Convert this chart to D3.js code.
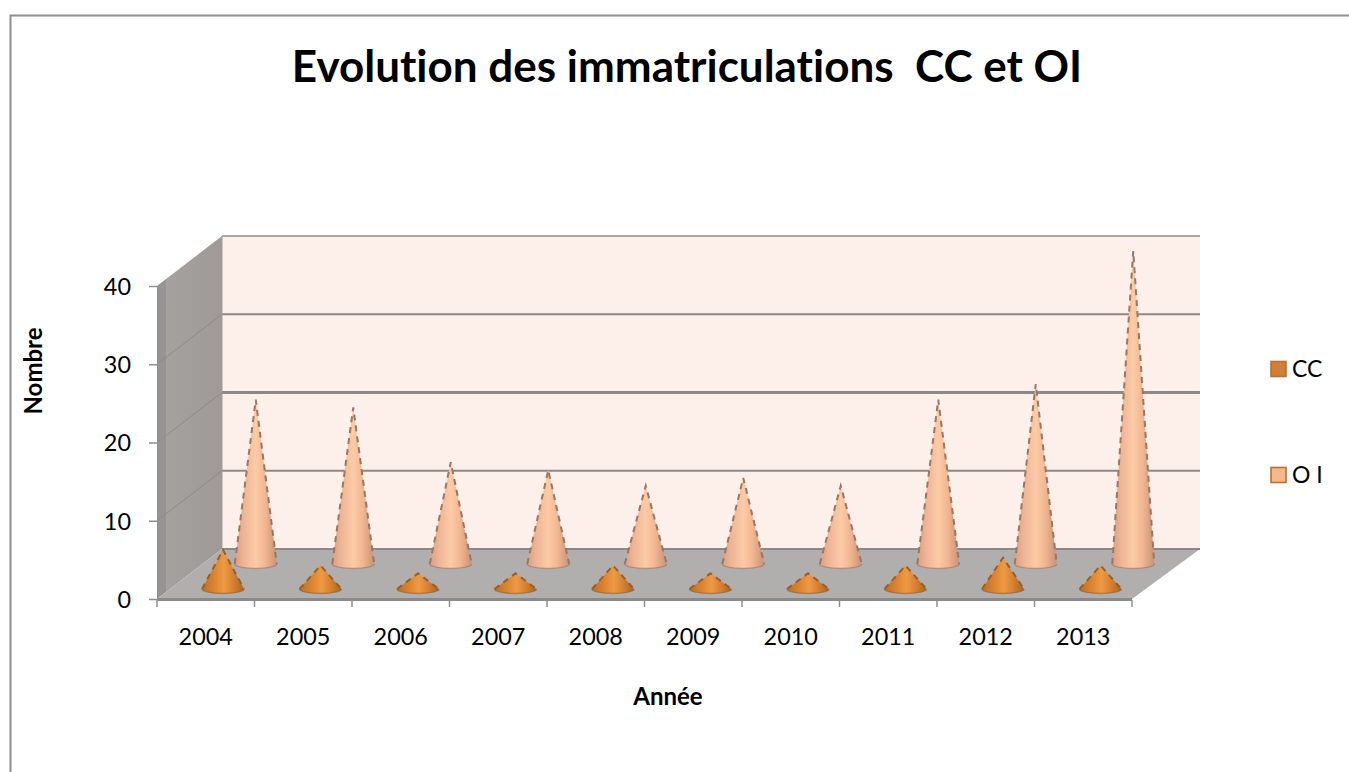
<!DOCTYPE html>
<html><head><meta charset="utf-8">
<script src="https://cdn.jsdelivr.net/npm/d3@7"></script>
<style>
html,body{margin:0;padding:0;background:#fff}
svg{display:block}
text{font-family:Lato,"Open Sans",sans-serif;fill:#000;font-variant-ligatures:none}
</style></head><body><div id="chart"></div>
<script>
const years = ["2004","2005","2006","2007","2008","2009","2010","2011","2012","2013"];
const ccValues = [5,3,2,2,3,2,2,3,4,3];
const oiValues = [21,20,13,12,10,11,10,21,23,40];
const yTicks = [0,10,20,30,40];
const seriesNames = ["CC","O I"];
const titleText = "Evolution des immatriculations  CC et OI";
const xTitle = "Année", yTitle = "Nombre";

const W=1349,H=772;
const svg=d3.select("#chart").append("svg").attr("width",W).attr("height",H);
const defs=svg.append("defs");
function grad(id,stops){
  const g=defs.append("linearGradient").attr("id",id).attr("x1",0).attr("x2",1).attr("y1",0).attr("y2",0);
  stops.forEach(s=>g.append("stop").attr("offset",s[0]).attr("stop-color",s[1]));
}
grad("oiG",[[0,"#d8a084"],[.22,"#eeb596"],[.5,"#fccba6"],[.72,"#f2b692"],[1,"#c99274"]]);
grad("ccG",[[0,"#b96f28"],[.3,"#dc8532"],[.52,"#ee9a44"],[.75,"#d67f30"],[1,"#a9641f"]]);
grad("sideG",[[0,"#959493"],[.13,"#959493"],[.14,"#a5a19e"],[1,"#9f9a98"]]);
defs.append("filter").attr("id","soft").append("feGaussianBlur").attr("stdDeviation",0.7);

// frame
svg.append("path").attr("d",`M10.5,${H} V15.5 H${W}`).attr("fill","none").attr("stroke","#8f8f8f").attr("stroke-width",2);

// scales
const x=d3.scaleBand().domain(years).range([157,1132]);
const y=d3.scaleLinear().domain([0,40]).range([599,286]);
const depth=d3.scaleLinear().domain([0,1]).range([0,1]);
const DX=65, DY=-50;
const px=(xv,d)=>xv+DX*depth(d), py=(yv,d)=>yv+DY*depth(d);

// back wall
const x0=157,x1=1132;
svg.append("path").attr("d",`M${px(x0,1)},${py(y(40),1)} L${px(x1,1)+3},${py(y(40),1)} L${px(x1,1)+3},${py(y(0),1)} L${px(x0,1)},${py(y(0),1)} Z`).attr("fill","#fdf0ea");
// side wall
svg.append("path").attr("d",`M${x0},${y(40)} L${px(x0,1)},${py(y(40),1)} L${px(x0,1)},${py(y(0),1)} L${x0},${y(0)} Z`).attr("fill","url(#sideG)");
// floor
svg.append("path").attr("d",`M${x0},${y(0)} L${x1},${y(0)} L${px(x1,1)+3},${py(y(0),1)} L${px(x0,1)},${py(y(0),1)} Z`).attr("fill","#b1aeae");
// gridlines
yTicks.forEach(t=>{
  const by=py(y(t),1);
  const c=t===40?"#a9a6a5":"#8f8785";
  svg.append("line").attr("x1",px(x0,1)).attr("x2",px(x1,1)+3).attr("y1",by).attr("y2",by)
    .attr("stroke",c).attr("stroke-width",t===20?2.8:2.2);
  if(t<40&&t>0) svg.append("line").attr("x1",x0).attr("y1",y(t)).attr("x2",px(x0,1)).attr("y2",by).attr("stroke","#8f8b89").attr("stroke-width",1);
});
svg.append("line").attr("x1",px(x0,1)).attr("x2",px(x0,1)).attr("y1",py(y(40),1)).attr("y2",py(y(0),1)).attr("stroke","#a09c9a").attr("stroke-width",1);
// floor front edge
svg.append("line").attr("x1",x0).attr("x2",x1).attr("y1",y(0)+.5).attr("y2",y(0)+.5).attr("stroke","#8a8a8c").attr("stroke-width",3);

// axes
const yAxis=d3.axisLeft(y).tickValues(yTicks).tickSize(8).tickPadding(18).tickFormat(d3.format("d"));
const ya=svg.append("g").attr("transform",`translate(${x0},0)`).call(yAxis);
ya.select(".domain").attr("stroke","#8f8f8f");
ya.selectAll(".tick line").attr("stroke","#8f8f8f").attr("stroke-width",1.5);
ya.selectAll("text").style("font-size","23.4px").attr("fill","#000").attr("dy","0.36em");
const xa=svg.append("g").attr("transform",`translate(0,${y(0)})`).call(d3.axisBottom(x).tickSize(0).tickPadding(27));
xa.select(".domain").remove();
xa.selectAll("text").style("font-size","23.4px").attr("fill","#000").attr("dy","0.36em");
xa.selectAll("g.tick text").attr("y",38);
xa.selectAll(".edge").data(years.concat(["end"])).enter().append("line").attr("class","edge")
  .attr("x1",(d,i)=>x0+i*x.step()).attr("x2",(d,i)=>x0+i*x.step()).attr("y1",1).attr("y2",8)
  .attr("stroke","#8f8f8f").attr("stroke-width",1.5);

// cones
function cone(g,cx,by,h,fill,edge){
  const rx=21,ry=4.5,tip=by-h;
  g.append("path").attr("d",`M${cx-rx},${by} L${cx},${tip} L${cx+rx},${by} A${rx},${ry} 0 0 1 ${cx-rx},${by} Z`)
    .attr("fill",fill);
  g.append("path").attr("d",`M${cx-rx},${by} L${cx},${tip} L${cx+rx},${by}`).attr("fill","none")
    .attr("stroke",edge).attr("stroke-width",2).attr("stroke-dasharray","6 5");
  g.append("path").attr("d",`M${cx-rx},${by} A${rx},${ry} 0 0 0 ${cx+rx},${by}`).attr("fill","none")
    .attr("stroke",edge).attr("stroke-width",1.4).attr("stroke-opacity",.6);
}
const H0=v=>y(0)-y(v);
const cones=svg.append("g").attr("filter","url(#soft)");
const oiG=cones.append("g"), ccG=cones.append("g");
years.forEach((yr,i)=>{
  cone(oiG,x(yr)+x.bandwidth()/2+50,564,H0(oiValues[i]),"url(#oiG)","#9c7563");
  cone(ccG,x(yr)+x.bandwidth()/2+17.25,589,H0(ccValues[i]),"url(#ccG)","#96602c");
});

// title & axis titles
svg.append("text").attr("x",687).attr("y",82).attr("text-anchor","middle").attr("xml:space","preserve")
  .style("white-space","pre").style("font-size","44px").style("font-weight",700).text(titleText);
svg.append("text").attr("x",668).attr("y",705).attr("text-anchor","middle").style("font-size","24px").style("font-weight",700).text(xTitle);
svg.append("text").attr("transform","translate(42,371) rotate(-90)").attr("text-anchor","middle").style("font-size","24px").style("font-weight",700).text(yTitle);

// legend
const legendY=d3.scalePoint().domain(seriesNames).range([369,475]);
const legendColor=d3.scaleOrdinal().domain(seriesNames).range(["#cf7f3a","#f6b98e"]);
seriesNames.forEach(n=>{
  svg.append("rect").attr("x",1271).attr("y",legendY(n)-7.5).attr("width",15).attr("height",15)
    .attr("fill",legendColor(n)).attr("stroke","#bd6f2c").attr("stroke-width",1.6);
  svg.append("text").attr("x",1292).attr("y",legendY(n)+8).style("font-size","23px").text(n);
});
</script></body></html>
